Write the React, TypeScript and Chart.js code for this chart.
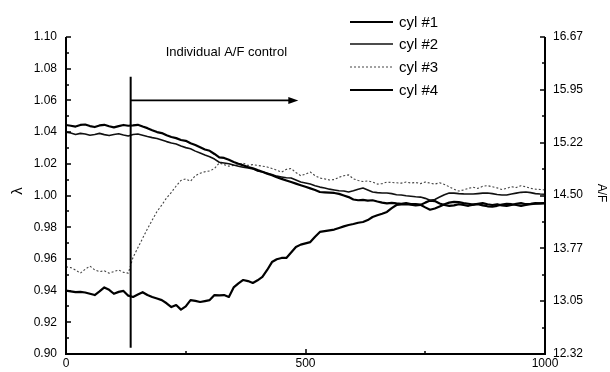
import React, { useEffect, useRef } from "react";
import { Chart, registerables } from "chart.js";

Chart.register(...registerables);

// x samples (time axis), one every 10 units
const X_SAMPLES: number[] = Array.from({ length: 101 }, (_, i) => i * 10);

const CYL1: number[] = [
  1.0445, 1.044, 1.0435, 1.0445, 1.0448, 1.0438, 1.0432, 1.0442, 1.0446, 1.0437,
  1.043, 1.0438, 1.0445, 1.044, 1.0442, 1.0446, 1.0435, 1.0425, 1.0412, 1.04,
  1.0394, 1.038, 1.0369, 1.0362, 1.035, 1.0345, 1.033, 1.0319, 1.0305, 1.029,
  1.0282, 1.0262, 1.024, 1.0237, 1.0225, 1.0211, 1.02, 1.019, 1.018, 1.0172,
  1.016, 1.015, 1.0138, 1.0128, 1.0115, 1.0105, 1.0095, 1.0085, 1.0075, 1.0065,
  1.0055, 1.0045, 1.0035, 1.0022, 1.002, 1.0018, 1.0016, 1.001, 1.0, 0.999,
  0.9975, 0.997, 0.9972, 0.9968, 0.997, 0.9962, 0.9955, 0.995, 0.9953, 0.995,
  0.9948, 0.9952, 0.9946, 0.9945, 0.9942, 0.9925, 0.991, 0.9918, 0.993, 0.9945,
  0.9955, 0.996, 0.9958, 0.9952, 0.9948, 0.9942, 0.9945, 0.9938, 0.9932, 0.993,
  0.9935, 0.9942, 0.9948, 0.9945, 0.994, 0.9935, 0.994, 0.9945, 0.9948, 0.995,
  0.9952,
];

const CYL2: number[] = [
  1.04, 1.0395, 1.0385, 1.0392, 1.0388, 1.038, 1.0385, 1.0392, 1.0384, 1.0378,
  1.0385, 1.039, 1.0382, 1.0375, 1.0385, 1.0388, 1.038, 1.0372, 1.0365, 1.036,
  1.035, 1.034, 1.0331, 1.0325, 1.0312, 1.0302, 1.0295, 1.028, 1.0268, 1.0256,
  1.0245, 1.023, 1.021, 1.0205, 1.02, 1.0192, 1.0185, 1.0178, 1.0173, 1.0168,
  1.0155, 1.0148, 1.014, 1.0132, 1.0122, 1.0117, 1.0112, 1.011, 1.0098, 1.0085,
  1.0079, 1.0072, 1.0062, 1.0053, 1.0047, 1.004, 1.0035, 1.003, 1.0028, 1.0022,
  1.003, 1.004, 1.0047, 1.0035, 1.0022, 1.0018, 1.0016, 1.0016, 1.0012, 1.0005,
  1.0003, 0.9998, 0.9995, 0.9992, 0.999, 0.9982, 0.997, 0.9975, 0.999, 1.0005,
  1.0016, 1.0015, 1.0012, 1.001, 1.0009, 1.0009, 1.0012, 1.0015, 1.0016, 1.0012,
  1.0006, 1.0003, 1.0003, 1.001, 1.0015, 1.002, 1.0022, 1.0018, 1.0012, 1.0009,
  1.0008,
];

const CYL3: number[] = [
  0.955, 0.9545, 0.953, 0.951, 0.9535, 0.9555, 0.953, 0.952, 0.9525, 0.951,
  0.952, 0.953, 0.9515, 0.951, 0.961, 0.967, 0.973, 0.979, 0.9845, 0.99,
  0.994, 0.9985, 1.002, 1.006, 1.0095, 1.0105, 1.009, 1.0125, 1.014, 1.015,
  1.0155, 1.017, 1.0205, 1.0195, 1.0185, 1.019, 1.0195, 1.0205, 1.019, 1.0195,
  1.019, 1.0185, 1.018, 1.017, 1.016, 1.0148, 1.0165, 1.017, 1.0145, 1.0125,
  1.0135, 1.0148, 1.0125, 1.011, 1.0105, 1.0098, 1.01, 1.0115, 1.0125, 1.013,
  1.0105, 1.0095, 1.0088, 1.0092, 1.0085, 1.0072, 1.0075, 1.0085, 1.0082, 1.008,
  1.0078, 1.0085, 1.0079, 1.0082, 1.0075, 1.0085, 1.0078, 1.0072, 1.008, 1.007,
  1.0055, 1.004, 1.0028, 1.0035, 1.0045, 1.0052, 1.0045, 1.0058, 1.0062, 1.0055,
  1.0048, 1.0038, 1.0045, 1.0055, 1.005, 1.0062, 1.0055, 1.0045, 1.004, 1.0038,
  1.0035,
];

const CYL4: number[] = [
  0.94, 0.9395, 0.939, 0.9392, 0.9388, 0.938, 0.9372, 0.9395, 0.942, 0.9405,
  0.938, 0.9392, 0.9398, 0.9368, 0.936, 0.9375, 0.939, 0.9372, 0.936, 0.935,
  0.934, 0.932, 0.9296, 0.9309, 0.928, 0.93, 0.934, 0.9335, 0.9328, 0.9334,
  0.934, 0.9372, 0.937, 0.9372, 0.936, 0.942, 0.9445, 0.9467, 0.946, 0.9448,
  0.9465, 0.9486, 0.953, 0.958, 0.9598, 0.9606, 0.9606, 0.964, 0.9675, 0.969,
  0.9698, 0.9706, 0.974, 0.977, 0.9775, 0.978, 0.9785, 0.9795, 0.9805, 0.9814,
  0.982, 0.9828, 0.9833, 0.9845, 0.9864, 0.9875, 0.9885, 0.9896, 0.992, 0.994,
  0.9944, 0.9946, 0.9942, 0.9938, 0.994, 0.9955, 0.9968, 0.9965, 0.995, 0.994,
  0.9935, 0.9938, 0.9945, 0.994, 0.9935, 0.9942, 0.9948, 0.9952, 0.9945, 0.994,
  0.9945, 0.9938, 0.9935, 0.994, 0.9948, 0.9952, 0.9945, 0.9948, 0.9952, 0.995,
  0.9952,
];

const SERIES_NAMES: string[] = ["cyl #1", "cyl #2", "cyl #3", "cyl #4"];
const AF_TICKS: number[] = [12.32, 13.05, 13.77, 14.5, 15.22, 15.95, 16.67];
const LAMBDA_MIN = 0.9;
const LAMBDA_MAX = 1.1;
const CONTROL_START = 135;
const ARROW_END = 485;
const ANNOTATION = "Individual A/F control";

const FONT = "'Liberation Sans', Arial, Helvetica, sans-serif";

const STYLES = [
  { width: 2.2, dash: [] as number[], color: "#000" },
  { width: 1.6, dash: [] as number[], color: "#111" },
  { width: 1.1, dash: [2, 2] as number[], color: "#444" },
  { width: 2.2, dash: [] as number[], color: "#000" },
];

const decorPlugin = {
  id: "decor",
  afterDraw(chart: any) {
    const ctx: CanvasRenderingContext2D = chart.ctx;
    const { left, right, top, bottom } = chart.chartArea;
    const xs = chart.scales.x;
    const ys = chart.scales.y;
    const y2 = chart.scales.y2;
    ctx.save();
    ctx.strokeStyle = "#000";
    ctx.fillStyle = "#000";
    ctx.setLineDash([]);
    // axes lines
    ctx.lineWidth = 2;
    ctx.beginPath();
    ctx.moveTo(left, top);
    ctx.lineTo(left, bottom);
    ctx.lineTo(right, bottom);
    ctx.lineTo(right, top);
    ctx.stroke();
    // ticks
    ctx.lineWidth = 1.5;
    ctx.beginPath();
    for (let i = 0; i <= 20; i++) {
      const v = LAMBDA_MIN + (i * (LAMBDA_MAX - LAMBDA_MIN)) / 20;
      const py = Math.round(ys.getPixelForValue(v));
      const len = i % 2 === 0 ? 5 : 3;
      ctx.moveTo(left, py);
      ctx.lineTo(left + len, py);
    }
    const amin = AF_TICKS[0];
    const amax = AF_TICKS[AF_TICKS.length - 1];
    for (let i = 0; i <= 12; i++) {
      const v = amin + (i * (amax - amin)) / 12;
      const py = Math.round(y2.getPixelForValue(v));
      const len = i % 2 === 0 ? 5 : 3;
      ctx.moveTo(right, py);
      ctx.lineTo(right - len, py);
    }
    for (let i = 0; i <= 4; i++) {
      const v = i * 250;
      const px = Math.round(xs.getPixelForValue(v));
      const len = i % 2 === 0 ? 5 : 3;
      ctx.moveTo(px, bottom);
      ctx.lineTo(px, bottom - len);
    }
    ctx.stroke();

    // control start line and arrow
    const vx = xs.getPixelForValue(CONTROL_START);
    ctx.lineWidth = 2;
    ctx.beginPath();
    ctx.moveTo(vx, ys.getPixelForValue(1.075));
    ctx.lineTo(vx, ys.getPixelForValue(0.904));
    ctx.stroke();
    const ay = ys.getPixelForValue(1.06);
    const ax = xs.getPixelForValue(ARROW_END);
    ctx.lineWidth = 1.8;
    ctx.beginPath();
    ctx.moveTo(vx, ay);
    ctx.lineTo(ax - 6, ay);
    ctx.stroke();
    ctx.beginPath();
    ctx.moveTo(ax, ay);
    ctx.lineTo(ax - 10, ay - 3.5);
    ctx.lineTo(ax - 10, ay + 3.5);
    ctx.closePath();
    ctx.fill();

    // annotation
    ctx.font = `13px ${FONT}`;
    ctx.textAlign = "left";
    ctx.textBaseline = "middle";
    ctx.fillText(ANNOTATION, xs.getPixelForValue(208), ys.getPixelForValue(1.0905));

    // legend
    const legendY = [22, 44, 67, 90];
    SERIES_NAMES.forEach((name, i) => {
      const st = STYLES[i];
      ctx.strokeStyle = st.color;
      ctx.lineWidth = st.width;
      ctx.setLineDash(st.dash);
      ctx.beginPath();
      ctx.moveTo(350, legendY[i]);
      ctx.lineTo(393, legendY[i]);
      ctx.stroke();
      ctx.setLineDash([]);
      ctx.fillStyle = "#000";
      ctx.font = `15px ${FONT}`;
      ctx.textAlign = "left";
      ctx.textBaseline = "middle";
      ctx.fillText(name, 399, legendY[i] + 1);
    });

    // axis titles
    ctx.fillStyle = "#000";
    ctx.font = `15px ${FONT}`;
    ctx.textAlign = "center";
    ctx.textBaseline = "middle";
    ctx.save();
    ctx.translate(18, 191);
    ctx.rotate(-Math.PI / 2);
    ctx.fillText("λ", 0, 0);
    ctx.restore();
    ctx.font = `12px ${FONT}`;
    ctx.save();
    ctx.translate(601, 193);
    ctx.rotate(Math.PI / 2);
    ctx.fillText("A/F", 0, 0);
    ctx.restore();

    ctx.restore();
  },
};

export default function App() {
  const ref = useRef<HTMLCanvasElement>(null);
  useEffect(() => {
    const canvas = ref.current;
    if (!canvas) return;
    const series = [CYL1, CYL2, CYL3, CYL4];
    const chart = new Chart(canvas, {
      type: "line",
      data: {
        datasets: series.map((vals, i) => ({
          label: SERIES_NAMES[i],
          data: X_SAMPLES.map((x, j) => ({ x, y: vals[j] })),
          borderColor: STYLES[i].color,
          borderWidth: STYLES[i].width,
          borderDash: STYLES[i].dash,
          pointRadius: 0,
          tension: 0,
          fill: false,
          yAxisID: "y",
          borderJoinStyle: "round" as const,
        })),
      },
      options: {
        responsive: false,
        devicePixelRatio: 1,
        animation: false,
        events: [],
        layout: { padding: { top: 37, left: 0, right: 0, bottom: 0 } },
        plugins: {
          legend: { display: false },
          tooltip: { enabled: false },
          title: { display: false },
        },
        scales: {
          x: {
            type: "linear",
            min: 0,
            max: 1000,
            grid: { display: false, drawTicks: false },
            border: { display: false },
            ticks: {
              stepSize: 500,
              maxRotation: 0,
              padding: 2,
              color: "#000",
              font: { family: FONT, size: 12 },
              callback: (v: any) => String(Math.round(Number(v))),
            },
            afterFit: (s: any) => {
              s.height = 18;
            },
          },
          y: {
            type: "linear",
            position: "left",
            min: LAMBDA_MIN,
            max: LAMBDA_MAX,
            grid: { display: false, drawTicks: false },
            border: { display: false },
            ticks: {
              stepSize: 0.02,
              padding: 9,
              color: "#000",
              font: { family: FONT, size: 12 },
              callback: (v: any) => Number(v).toFixed(2),
            },
            afterFit: (s: any) => {
              s.width = 66;
            },
          },
          y2: {
            type: "linear",
            position: "right",
            min: AF_TICKS[0],
            max: AF_TICKS[AF_TICKS.length - 1],
            grid: { display: false, drawTicks: false },
            border: { display: false },
            afterBuildTicks: (s: any) => {
              s.ticks = AF_TICKS.map((v) => ({ value: v }));
            },
            ticks: {
              padding: 8,
              color: "#000",
              font: { family: FONT, size: 12 },
              callback: (v: any) => Number(v).toFixed(2),
            },
            afterFit: (s: any) => {
              s.width = 65;
            },
          },
        },
      },
      plugins: [decorPlugin],
    } as any);
    return () => chart.destroy();
  }, []);
  return (
    <div style={{ position: "absolute", left: 0, top: 0, width: 610, height: 372, background: "#fff" }}>
      <canvas ref={ref} width={610} height={372} style={{ display: "block", width: 610, height: 372 }} />
    </div>
  );
}
